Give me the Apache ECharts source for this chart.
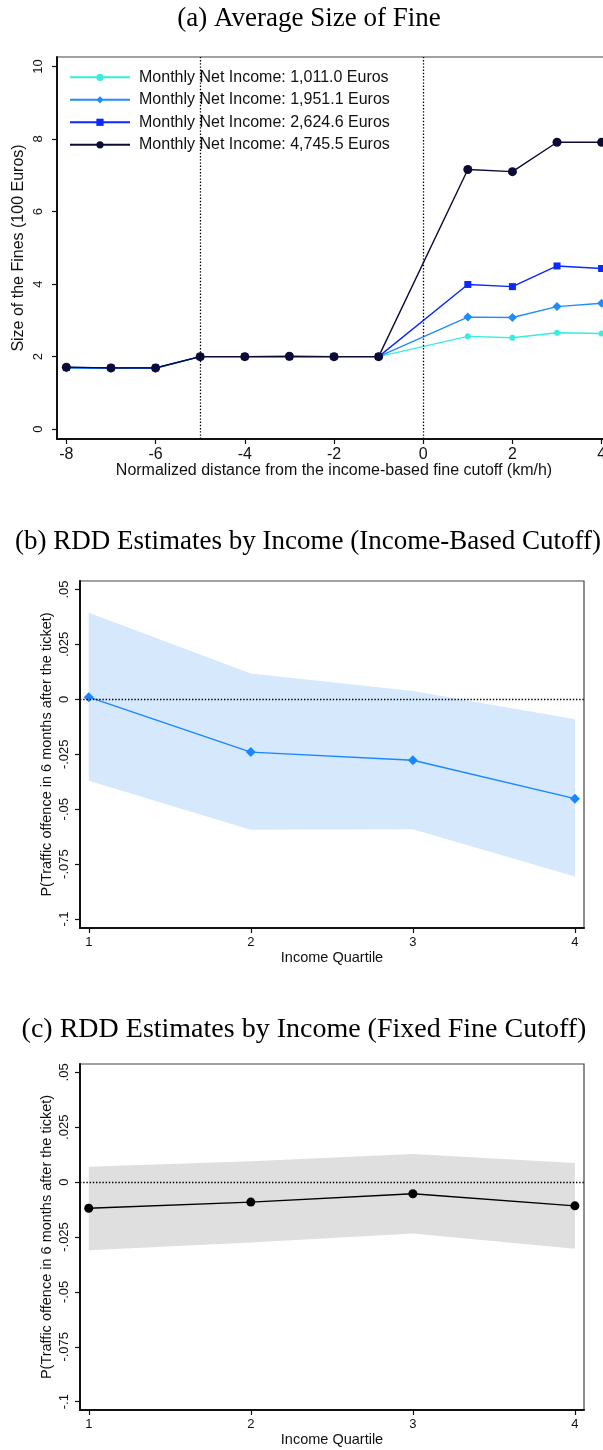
<!DOCTYPE html>
<html>
<head>
<meta charset="utf-8">
<script src="https://cdn.jsdelivr.net/npm/echarts@6/dist/echarts.min.js"></script>
<style>
  html, body { margin: 0; padding: 0; background: #fff; overflow: hidden; width: 603px; height: 1450px; }
  #chart { width: 620px; height: 1450px; }
</style>
</head>
<body>
<div id="chart"></div>
<script>
// ---- Panel (a): average fine by distance from the income-based cutoff ----
const distance = [-8, -7, -6, -5, -4, -3, -2, -1, 1, 2, 3, 4];
const incomeLabels = [
  'Monthly Net Income: 1,011.0 Euros',
  'Monthly Net Income: 1,951.1 Euros',
  'Monthly Net Income: 2,624.6 Euros',
  'Monthly Net Income: 4,745.5 Euros'
];
const fineQ1 = [1.70, 1.68, 1.68, 2.00, 2.00, 2.00, 2.00, 2.00, 2.56, 2.52, 2.66, 2.64];
const fineQ2 = [1.69, 1.68, 1.68, 2.00, 2.00, 2.00, 2.00, 2.00, 3.09, 3.08, 3.38, 3.47];
const fineQ3 = [1.70, 1.69, 1.69, 2.00, 2.00, 2.00, 2.00, 2.00, 3.99, 3.93, 4.50, 4.43];
const fineQ4 = [1.71, 1.69, 1.69, 2.00, 2.00, 2.01, 2.00, 2.00, 7.16, 7.10, 7.91, 7.91];
const cutoffLines = [-5, 0];
const distanceTicks = [-8, -6, -4, -2, 0, 2, 4];
const fineTicks = [0, 2, 4, 6, 8, 10];

// ---- Panels (b) and (c): RDD estimates by income quartile ----
const quartiles = [1, 2, 3, 4];
const rddIncome   = [0.0010, -0.0240, -0.0277, -0.0452];
const rddIncomeLo = [-0.0370, -0.0594, -0.0591, -0.0806];
const rddIncomeHi = [0.0394, 0.0118, 0.0038, -0.0090];
const rddFixed    = [-0.0119, -0.0091, -0.0053, -0.0108];
const rddFixedLo  = [-0.0310, -0.0275, -0.0234, -0.0303];
const rddFixedHi  = [0.0070, 0.0095, 0.0128, 0.0087];
const quartileTicks = [1, 2, 3, 4];
const rddTicks = [0.05, 0.025, 0, -0.025, -0.05, -0.075, -0.1];

const panelTitles = [
  '(a) Average Size of Fine',
  '(b) RDD Estimates by Income (Income-Based Cutoff)',
  '(c) RDD Estimates by Income (Fixed Fine Cutoff)'
];

const SANS = '"Liberation Sans", Arial, Helvetica, sans-serif';
const SERIF = '"Liberation Serif", "Times New Roman", serif';
const INK = '#111';

// Stata-style numbers: drop the leading zero (".05", "-.025")
const stataNum = v => String(+v.toFixed(4)).replace(/^(-?)0\./, '$1.');

function axisBase(gridIndex, min, max, ticks, name, fs, labelFs, labelMargin, nameGap) {
  return {
    type: 'value', gridIndex, min, max,
    name, nameLocation: 'middle', nameGap, nameMoveOverlap: false,
    nameTextStyle: { fontFamily: SANS, fontSize: fs, color: INK },
    splitLine: { show: false },
    axisLine: { show: true, onZero: false, lineStyle: { color: INK, width: 2 } },
    axisTick: { show: true, length: 5, customValues: ticks, lineStyle: { color: INK, width: 1.2 } },
    axisLabel: { customValues: ticks, fontFamily: SANS, fontSize: labelFs, color: INK, margin: labelMargin, formatter: stataNum }
  };
}
function xAxis(...args) {
  return axisBase(...args);
}
function yAxis(...args) {
  const ax = axisBase(...args);
  ax.axisLabel.rotate = 90;
  return ax;
}

const dotted = { color: '#000', width: 1.3, type: [1.4, 1.8] };

function fineSeries(name, values, color, symbol, size) {
  return {
    type: 'line', name, xAxisIndex: 0, yAxisIndex: 0,
    data: distance.map((d, i) => [d, values[i]]),
    symbol, symbolSize: size, showSymbol: true,
    lineStyle: { color, width: 1.4 }, itemStyle: { color },
    emphasis: { disabled: true }, z: 3
  };
}

function bandSeries(axisIndex, lo, hi, fill) {
  const pts = quartiles.map((q, i) => [q, lo[i], hi[i]]);
  return {
    type: 'custom', xAxisIndex: axisIndex, yAxisIndex: axisIndex,
    data: pts, silent: true, z: 1, clip: false,
    encode: { x: 0, y: [1, 2] },
    renderItem(params, api) {
      if (params.dataIndex !== 0) return null;
      const upper = pts.map(p => api.coord([p[0], p[2]]));
      const lower = pts.map(p => api.coord([p[0], p[1]])).reverse();
      return { type: 'polygon', shape: { points: upper.concat(lower) }, style: { fill } };
    }
  };
}

function estimateSeries(axisIndex, values, color, symbol, size) {
  return {
    type: 'line', xAxisIndex: axisIndex, yAxisIndex: axisIndex,
    data: quartiles.map((q, i) => [q, values[i]]),
    symbol, symbolSize: size, showSymbol: true,
    lineStyle: { color, width: 1.4 }, itemStyle: { color },
    emphasis: { disabled: true }, z: 3,
    markLine: {
      silent: true, symbol: 'none', label: { show: false },
      lineStyle: dotted, data: [{ yAxis: 0 }]
    }
  };
}

const fineSet = [
  fineSeries(incomeLabels[0], fineQ1, '#36EEDF', 'circle', 6),
  fineSeries(incomeLabels[1], fineQ2, '#1E8CFF', 'diamond', 9),
  fineSeries(incomeLabels[2], fineQ3, '#0A28FF', 'rect', 7),
  fineSeries(incomeLabels[3], fineQ4, '#0B0B35', 'circle', 9)
];
fineSet[0].markLine = {
  silent: true, symbol: 'none', label: { show: false },
  lineStyle: dotted, data: cutoffLines.map(x => ({ xAxis: x }))
};

const frame = { show: true, borderColor: '#444', borderWidth: 1.2, backgroundColor: 'transparent' };

function titleText(x, y, text, size) {
  return { type: 'text', x, y, style: { text, fontFamily: SERIF, fontSize: size, fill: '#000', align: 'center', verticalAlign: 'middle' } };
}

const option = {
  animation: false,
  backgroundColor: '#fff',
  graphic: [
    titleText(309, 19, panelTitles[0], 27),
    titleText(308, 542, panelTitles[1], 27),
    titleText(304, 1030, panelTitles[2], 28)
  ],
  legend: {
    data: incomeLabels,
    orient: 'vertical', left: 69, top: 69.3, padding: 0,
    itemWidth: 60, itemHeight: 9, itemGap: 6.5,
    textStyle: { fontFamily: SANS, fontSize: 16, lineHeight: 16, color: INK, padding: [0, 0, 0, 4] },
    selectedMode: false
  },
  grid: [
    Object.assign({ left: 57, top: 57, width: 554, height: 382 }, frame),
    Object.assign({ left: 80, top: 581, width: 504, height: 347 }, frame),
    Object.assign({ left: 80, top: 1064, width: 504, height: 346 }, frame)
  ],
  xAxis: [
    xAxis(0, -8.21, 4.21, distanceTicks, 'Normalized distance from the income-based fine cutoff (km/h)', 16, 16, 8, 24),
    xAxis(1, 0.946, 4.056, quartileTicks, 'Income Quartile', 14.5, 13, 8, 22),
    xAxis(2, 0.946, 4.056, quartileTicks, 'Income Quartile', 14.5, 13, 8, 22)
  ],
  yAxis: [
    yAxis(0, -0.27, 10.26, fineTicks, 'Size of the Fines (100 Euros)', 16, 13, 12, 30),
    yAxis(1, -0.1041, 0.0539, rddTicks, 'P(Traffic offence in 6 months after the ticket)', 14.5, 13, 9, 26),
    yAxis(2, -0.1038, 0.0538, rddTicks, 'P(Traffic offence in 6 months after the ticket)', 14.5, 13, 9, 26)
  ],
  series: [
    ...fineSet,
    bandSeries(1, rddIncomeLo, rddIncomeHi, '#D5E8FC'),
    estimateSeries(1, rddIncome, '#1A86FF', 'diamond', 10),
    bandSeries(2, rddFixedLo, rddFixedHi, '#DFDFDF'),
    estimateSeries(2, rddFixed, '#000', 'circle', 9)
  ]
};

const chart = echarts.init(document.getElementById('chart'), null, { renderer: 'canvas' });
chart.setOption(option);
</script>
</body>
</html>
